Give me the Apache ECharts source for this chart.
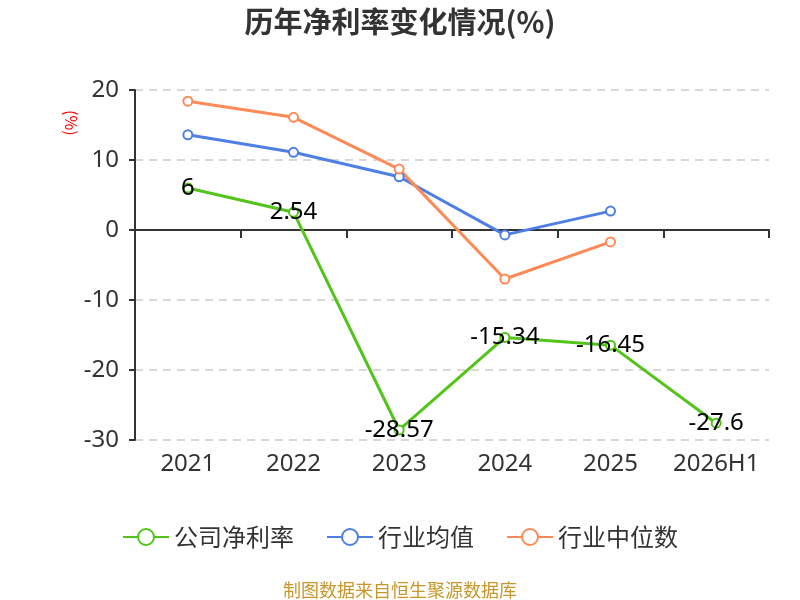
<!DOCTYPE html>
<html>
<head>
<meta charset="utf-8">
<script src="https://cdn.jsdelivr.net/npm/echarts@6/dist/echarts.min.js"></script>
<style>
  html, body { margin: 0; padding: 0; background: #fff; }
  #main { width: 800px; height: 600px; }
</style>
</head>
<body>
<div id="main"></div>
<script>
const years = ['2021', '2022', '2023', '2024', '2025', '2026H1'];
const companyRate = [6, 2.54, -28.57, -15.34, -16.45, -27.6];
const industryAvg = [13.6, 11.1, 7.6, -0.7, 2.7, null];
const industryMedian = [18.4, 16.1, 8.7, -7.0, -1.7, null];

const font = '"Noto Sans CJK SC", "Microsoft YaHei", sans-serif';
const numFont = '"Noto Sans", "Noto Sans CJK SC", sans-serif';

const makeLine = (name, data, color, withLabel) => ({
  name,
  type: 'line',
  data,
  symbol: 'emptyCircle',
  symbolSize: 9,
  lineStyle: { width: 3, color },
  itemStyle: { color, borderWidth: 2 },
  label: withLabel ? {
    show: true,
    position: 'inside',
    color: '#000',
    fontSize: 24,
    fontFamily: numFont,
  } : { show: false },
  z: withLabel ? 3 : 2,
});

const chart = echarts.init(document.getElementById('main'));
chart.setOption({
  animation: false,
  textStyle: { fontFamily: font },
  title: {
    text: '历年净利率变化情况(%)',
    left: 'center',
    top: 2,
    textStyle: { fontSize: 29, fontWeight: 'bold', color: '#333', fontFamily: font },
  },
  graphic: [{
    type: 'text',
    left: 63,
    top: 110,
    rotation: -Math.PI / 2,
    style: { text: '(%)', fill: '#ff0000', font: '16px ' + font },
  }],
  legend: {
    bottom: 46,
    left: 'center',
    itemWidth: 46,
    itemHeight: 20,
    itemGap: 32,
    textStyle: { fontSize: 24, color: '#333', fontFamily: font },
    data: ['公司净利率', '行业均值', '行业中位数'],
  },
  grid: { left: 135, right: 31, top: 90, bottom: 160 },
  xAxis: [{
    type: 'category',
    data: years,
    position: 'bottom',
    axisLine: { show: false, onZero: false },
    axisTick: { show: false },
    axisLabel: { interval: 0, fontSize: 24, color: '#333', margin: 12, fontFamily: numFont },
  }, {
    type: 'category',
    data: years,
    position: 'bottom',
    axisLine: { show: true, onZero: true, lineStyle: { color: '#333', width: 2 } },
    axisTick: { show: true, interval: 0, length: 8, lineStyle: { color: '#333', width: 2 } },
    axisLabel: { show: false },
  }],
  yAxis: {
    type: 'value',
    min: -30,
    max: 20,
    interval: 10,
    axisLine: { show: true, lineStyle: { color: '#333', width: 2 } },
    axisTick: { show: true, length: 6, lineStyle: { width: 2 } },
    axisLabel: { fontSize: 24, color: '#333', margin: 16, fontFamily: numFont },
    splitLine: { lineStyle: { type: [8, 6], color: '#ccc', width: 1.5 } },
  },
  series: [
    makeLine('公司净利率', companyRate, '#52C41A', true),
    makeLine('行业均值', industryAvg, '#4E7FE5', false),
    makeLine('行业中位数', industryMedian, '#FF8A57', false),
  ],
});
</script>
<div style="position:absolute;left:0;top:576px;width:800px;text-align:center;font:18px 'Noto Sans CJK SC', sans-serif;color:#C8962A;">制图数据来自恒生聚源数据库</div>
</body>
</html>
